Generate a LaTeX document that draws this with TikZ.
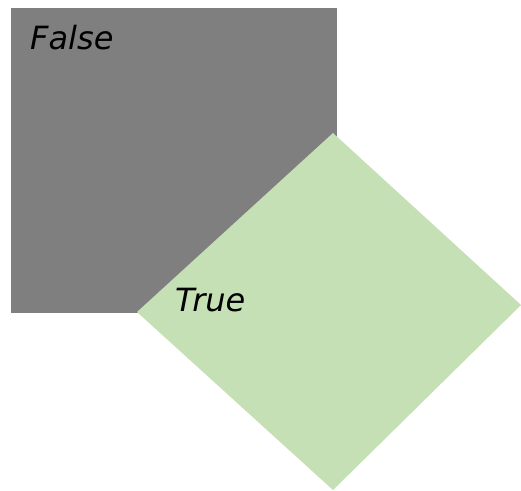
\documentclass[tikz,border=0pt]{standalone}
\usepackage{fontspec}
\setmainfont{DejaVu Sans}
\usepackage{tikz}
\usepackage{xcolor}

\definecolor{falsegray}{HTML}{7F7F7F}
\definecolor{truegreen}{HTML}{C5E0B4}

\begin{document}
\begin{tikzpicture}[x=1pt, y=-1pt,
    label text/.style={anchor=base west, inner sep=0pt, font=\itshape\fontsize{32}{33}\selectfont}]
    \useasboundingbox (0,0) rectangle (521,490);

    % The false region
    \fill[falsegray] (11,8) rectangle (337,313);

    % The true region (tilted square)
    \fill[truegreen] (333,133) -- (521,305) -- (333,490) -- (137,312) -- cycle;

    % Labels
    \node[label text] (false) at (30,49) {False};
    \node[label text] (true) at (175,311) {True};
\end{tikzpicture}
\end{document}
